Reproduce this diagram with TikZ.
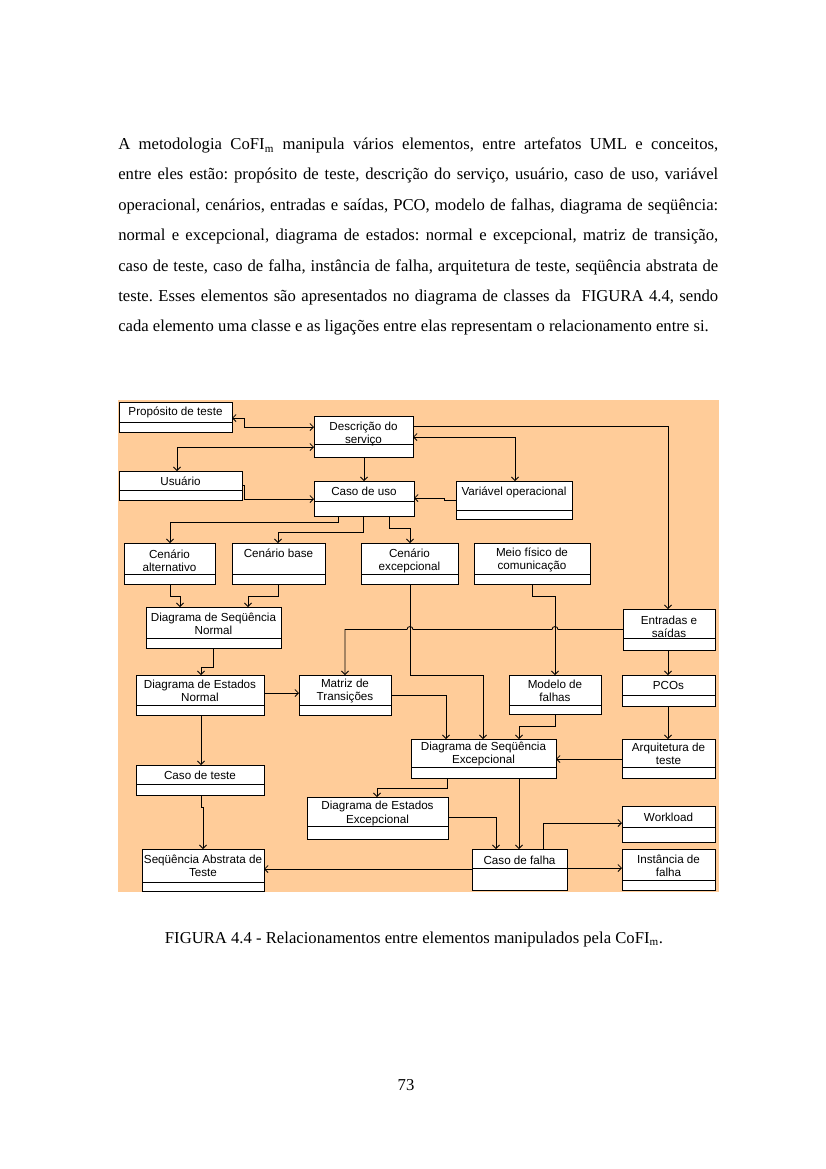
\documentclass[tikz,border=0pt]{standalone}
\usepackage{fontspec}
\setmainfont{Liberation Serif}
\newfontfamily\arialf{Liberation Sans}
\usetikzlibrary{arrows.meta,fit}
\definecolor{peach}{RGB}{255,204,153}
\frenchspacing
\newcommand\ucls[8]{%
  \node[clsbox, fit={(#2,#3) (#4,#5)}] (#1) {};
  \draw[divline] (#2,#6) -- (#4,#6);
  \node[clstext] at ({(#2+#4)/2},#7) {#8};
}
\begin{document}
\begin{tikzpicture}[x=0.72pt,y=-0.72pt,
  >={Straight Barb[length=2.5pt,width=5pt]},
  conn/.style={line width=0.6pt, black},
  clsbox/.style={draw, line width=0.6pt, fill=white, inner sep=0pt, outer sep=0pt},
  divline/.style={line width=0.6pt},
  clstext/.style={font=\arialf\fontsize{8.4}{9.4}\selectfont, align=center, inner sep=0pt},
  bodyline/.style={anchor=base west, inner sep=0pt, font=\fontsize{12}{14}\selectfont},
]
\useasboundingbox[fill=white] (0,0) rectangle (826,1169);

% body text
\node[bodyline] (l1) at (118,149.5) {\makebox[432pt][s]{A metodologia CoFI\textsubscript{m} manipula vários elementos, entre artefatos UML e conceitos,}};
\node[bodyline] (l2) at (118,179.9) {\makebox[432pt][s]{entre eles estão: propósito de teste, descrição do serviço, usuário, caso de uso, variável}};
\node[bodyline] (l3) at (118,210.3) {\makebox[432pt][s]{operacional, cenários, entradas e saídas, PCO, modelo de falhas, diagrama de seqüência:}};
\node[bodyline] (l4) at (118,240.7) {\makebox[432pt][s]{normal e excepcional, diagrama de estados: normal e excepcional, matriz de transição,}};
\node[bodyline] (l5) at (118,271.1) {\makebox[432pt][s]{caso de teste, caso de falha, instância de falha, arquitetura de teste, seqüência abstrata de}};
\node[bodyline] (l6) at (118,301.5) {\makebox[432pt][s]{teste. Esses elementos são apresentados no diagrama de classes da \ FIGURA 4.4, sendo}};
\node[bodyline] (l7) at (118,331.9) {cada elemento uma classe e as ligações entre elas representam o relacionamento entre si.};

% diagram background
\fill[peach] (118,400) rectangle (719,892);

% classes
\ucls{prop}{119}{402}{232}{432}{422}{412}{Propósito de teste}
\ucls{desc}{314}{416}{413}{457}{444}{434}{Descrição do\\serviço}
\ucls{usu}{119}{471}{242}{500}{490}{481}{Usuário}
\ucls{caso}{314}{481}{414}{516}{501}{491}{Caso de uso}
\ucls{var}{456}{481}{572}{519}{510}{492}{Variável operacional}
\ucls{calt}{124}{543}{215}{584}{574}{560.5}{Cenário\\alternativo}
\ucls{cbase}{232}{543}{325}{584}{574}{553}{Cenário base}
\ucls{cexc}{361}{543}{458}{584}{574}{560.5}{Cenário\\excepcional}
\ucls{meio}{474}{543}{590}{584}{574}{560}{Meio físico de\\comunicação}
\ucls{dsn}{146}{607}{281}{648}{638}{624}{Diagrama de Seqüência\\Normal}
\ucls{ent}{623}{609}{715}{650}{638}{627}{Entradas e\\saídas}
\ucls{den}{136}{675}{264}{715}{705}{691}{Diagrama de Estados\\Normal}
\ucls{mat}{299}{675}{391}{715}{705}{691}{Matriz de\\Transições}
\ucls{mod}{509}{675}{601}{714}{705}{691}{Modelo de\\falhas}
\ucls{pco}{622}{675}{715}{706}{695}{685}{PCOs}
\ucls{dse}{411}{739}{556}{778}{767}{754}{Diagrama de Seqüência\\Excepcional}
\ucls{arq}{622}{739}{715}{778}{767}{754}{Arquitetura de\\teste}
\ucls{cte}{136}{765}{264}{795}{784}{775}{Caso de teste}
\ucls{dee}{307}{797}{448}{839}{826}{813.5}{Diagrama de Estados\\Excepcional}
\ucls{work}{622}{806}{715}{842}{827}{817}{Workload}
\ucls{sab}{142}{849}{264}{891}{882}{866}{Seqüência Abstrata de\\Teste}
\ucls{cfa}{472}{849}{567}{890}{868}{860}{Caso de falha}
\ucls{inst}{622}{849}{715}{890}{880}{865.5}{Instância de\\falha}

% connectors
\draw[conn,<->] (prop.east |- 0,418) -- (244,418) |- (desc.west |- 0,427);
\draw[conn,<->] (desc.west |- 0,447) -| (usu.north -| 177,0);
\draw[conn,->] (usu.east |- 0,485) -- (244,485) |- (caso.west |- 0,499);
\draw[conn,->] (desc.south -| 364,0) -- (caso.north -| 364,0);
\draw[conn,->] (desc.east |- 0,426) -| (ent.north -| 668,0);
\draw[conn,<->] (desc.east |- 0,437) -| (var.north -| 515,0);
\draw[conn,->] (var.west |- 0,500) -- (444,500) -- (444,498) -- (caso.east |- 0,498);
\draw[conn,->] (caso.south -| 338,0) -- (338,522) -| (calt.north -| 170,0);
\draw[conn,->] (caso.south -| 363,0) -- (363,532) -| (cbase.north -| 278,0);
\draw[conn,->] (caso.south -| 389,0) -- (389,528) -| (cexc.north -| 410,0);
\draw[conn,->] (calt.south -| 170,0) -- (170,596) -| (dsn.north -| 180,0);
\draw[conn,->] (cbase.south -| 278,0) -- (278,596) -| (dsn.north -| 248,0);
\draw[conn,->] (dsn.south -| 213,0) -- (213,667) -| (den.north -| 201,0);
\draw[conn,->] (den.east |- 0,693) -- (mat.west |- 0,693);
\draw[conn,->] (den.south -| 201,0) -- (cte.north -| 201,0);
\draw[conn,->] (ent.west |- 0,629.5) -- (558,629.5) arc[start angle=0,end angle=-180,radius=3]
   -- (413,629.5) arc[start angle=0,end angle=-180,radius=3] -- (345,629.5) -- (mat.north -| 345,0);
\draw[conn,->] (cexc.south -| 410,0) -- (410,675) -| (dse.north -| 483,0);
\draw[conn,->] (meio.south -| 532,0) -- (532,596) -| (mod.north -| 555,0);
\draw[conn,->] (mat.east |- 0,695) -| (dse.north -| 446,0);
\draw[conn,->] (mod.south -| 555,0) -- (555,726) -| (dse.north -| 519,0);
\draw[conn,->] (ent.south -| 668,0) -- (pco.north -| 668,0);
\draw[conn,->] (pco.south -| 668,0) -- (arq.north -| 668,0);
\draw[conn,->] (arq.west |- 0,759) -- (dse.east |- 0,759);
\draw[conn,->] (dse.south -| 447,0) -- (447,788) -| (dee.north -| 377,0);
\draw[conn,->] (dse.south -| 519,0) -- (cfa.north -| 519,0);
\draw[conn,->] (dee.east |- 0,817) -| (cfa.north -| 496,0);
\draw[conn,->] (cfa.north -| 543,0) |- (work.west |- 0,823);
\draw[conn,->] (cfa.east |- 0,868) -- (inst.west |- 0,868);
\draw[conn,->] (cfa.west |- 0,869) -- (sab.east |- 0,869);
\draw[conn,->] (cte.south -| 201,0) -- (201,807) -- (203,807) -- (sab.north -| 203,0);

% caption and page number
\node[anchor=base, inner sep=0pt, font=\fontsize{12}{14}\selectfont] (cap) at (414,943) {FIGURA 4.4 - Relacionamentos entre elementos manipulados pela CoFI\textsubscript{m}.};
\node[anchor=base, inner sep=0pt, font=\fontsize{12}{14}\selectfont] (pg) at (406,1090) {73};
\end{tikzpicture}
\end{document}
